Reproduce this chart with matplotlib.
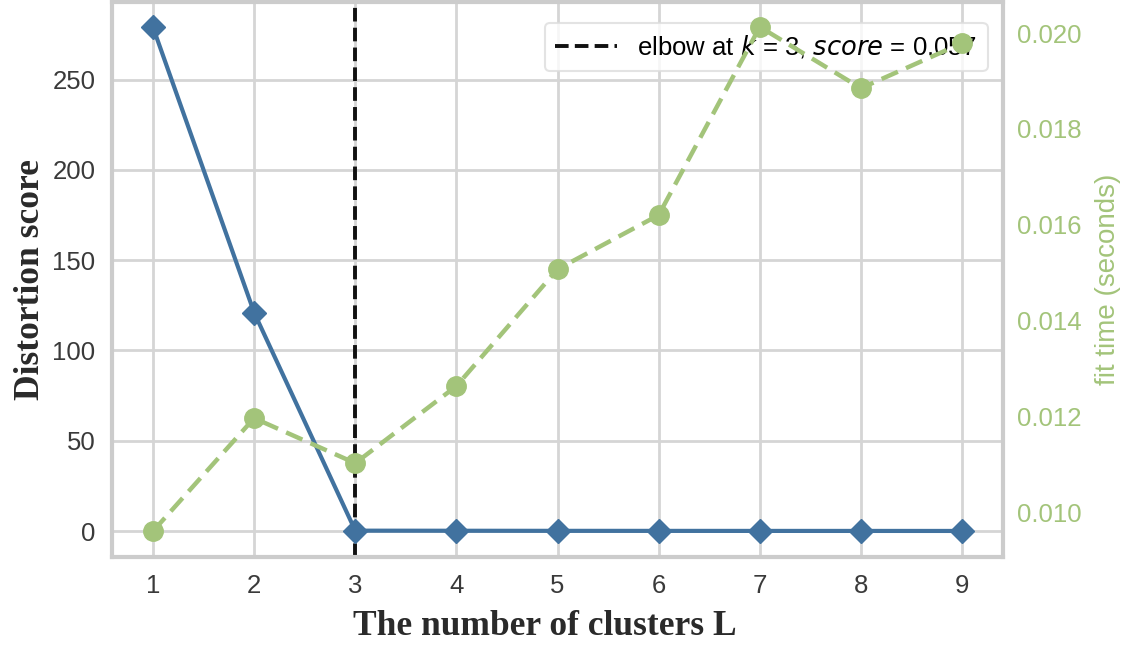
import numpy as np
import matplotlib
matplotlib.use("Agg")
import matplotlib.pyplot as plt

# values
k_values = [1, 2, 3, 4, 5, 6, 7, 8, 9]
distortion = [279, 121, 0.2, 0.15, 0.1, 0.08, 0.06, 0.05, 0.04]
fit_time = [0.00960, 0.01196, 0.01102, 0.01263, 0.01507, 0.01620, 0.02013, 0.01885, 0.01979]
elbow_k = 3
elbow_score = 0.057

blue = "#41729F"
green = "#A3C47A"
grid_c = "#D5D5D5"

plt.rcParams['font.family'] = ['Liberation Sans', 'DejaVu Sans']
plt.rcParams['mathtext.fontset'] = 'dejavusans'

fig = plt.figure(figsize=(11.34, 6.45), dpi=100)
ax = fig.add_axes([0.0988, 0.1364, 0.7857, 0.8605])

ax.plot(k_values, distortion, color=blue, marker="D", markersize=12, linewidth=3, zorder=3)
ax.axvline(elbow_k, color="#111111", linestyle="--", linewidth=2.8, dashes=(3.5, 1.6),
           label=r"elbow at $k$ = %d, $score$ = %.3f" % (elbow_k, elbow_score))

ax.set_xlim(0.595, 9.405)
ax.set_ylim(-14.4, 293)
ax.set_xticks(k_values)
ax.set_yticks([0, 50, 100, 150, 200, 250])
ax.grid(True, color=grid_c, linewidth=2)
ax.set_axisbelow(True)
ax.tick_params(length=0, labelsize=18.5, colors="#3A3A3A", pad=12)
for s in ax.spines.values():
    s.set_color("#CCCCCC")
    s.set_linewidth(3)

ax.set_xlabel("The number of clusters L", family=['Liberation Serif'], fontweight="bold",
              fontsize=25.5, color="#2A2A2A", labelpad=8)
ax.xaxis.set_label_coords(0.486, -0.095)
ax.set_ylabel("Distortion score", family=['Liberation Serif'], fontweight="bold",
              fontsize=25.5, color="#2A2A2A", labelpad=4)

leg = ax.legend(loc="upper right", fontsize=18.5, frameon=True, borderpad=0.4,
                handlelength=2.4, bbox_to_anchor=(0.997, 0.985))
leg.get_frame().set_edgecolor("#DDDDDD")
leg.get_frame().set_linewidth(1.5)

ax2 = ax.twinx()
ax2.plot(k_values, fit_time, color=green, marker="o", markersize=14, linestyle="--",
         linewidth=3.2, dashes=(4, 2))
ax2.set_ylim(0.00906, 0.02065)
ax2.set_yticks([0.010, 0.012, 0.014, 0.016, 0.018, 0.020])
ax2.set_yticklabels(["%.3f" % v for v in [0.010, 0.012, 0.014, 0.016, 0.018, 0.020]])
ax2.grid(False)
ax2.tick_params(length=0, labelsize=18.5, colors=green, pad=10)
ax2.set_ylabel("fit time (seconds)", color=green, fontsize=20, labelpad=10)
for s in ax2.spines.values():
    s.set_visible(False)

fig.savefig("out.png", dpi=100)
